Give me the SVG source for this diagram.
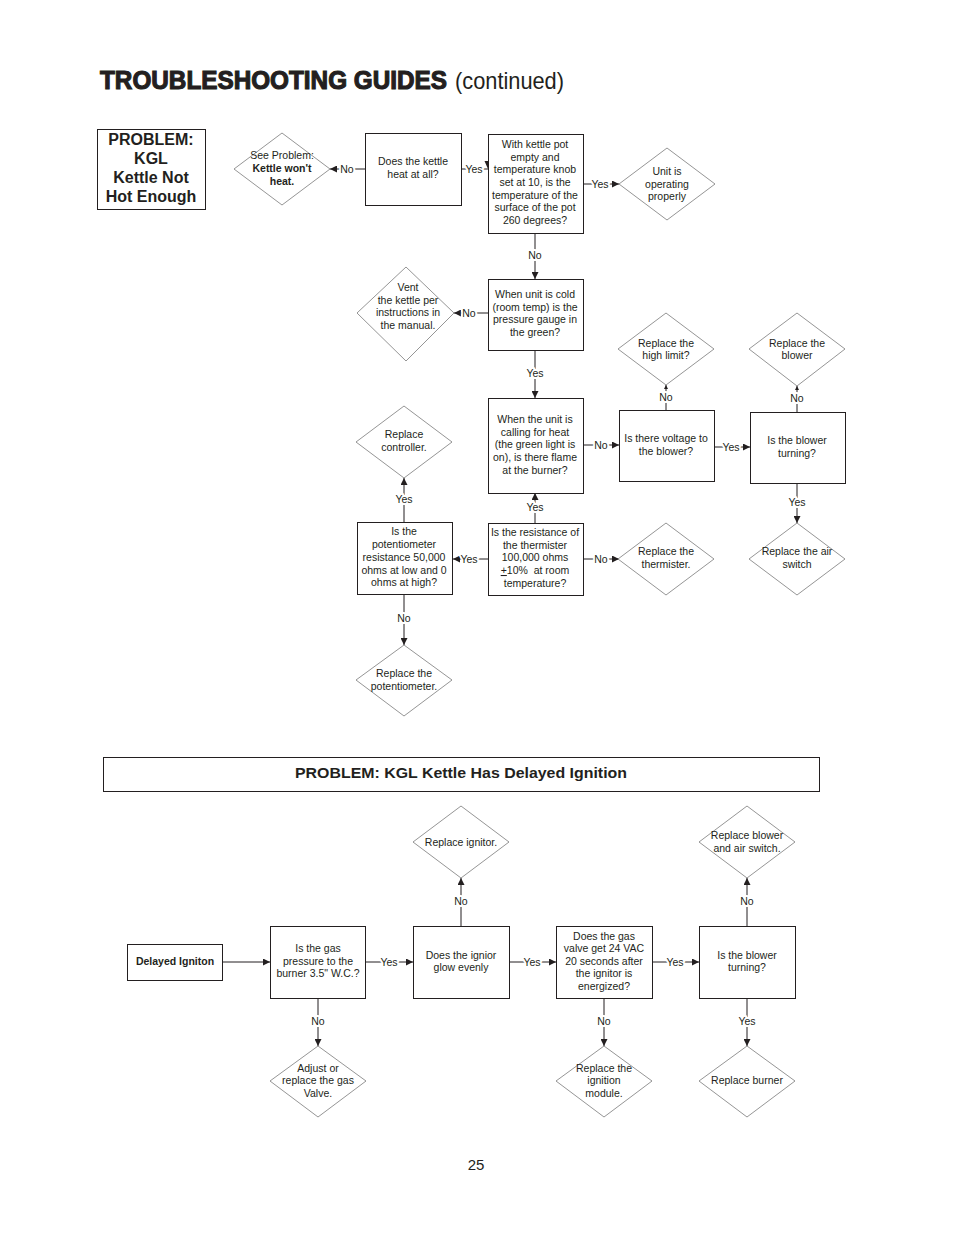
<svg xmlns="http://www.w3.org/2000/svg" width="954" height="1235" viewBox="0 0 954 1235">
<style>
text{font-family:"Liberation Sans",Arial,sans-serif;fill:#231f20}
.t{font-size:10.5px;text-anchor:middle}
.b{font-weight:bold}
.box{fill:#fff;stroke:#231f20;stroke-width:1}
.dia{fill:#fff;stroke:#7a7a7a;stroke-width:0.8}
.ln{fill:none;stroke:#231f20;stroke-width:1}
.lbl{font-size:10.5px;text-anchor:middle;paint-order:stroke;stroke:#fff;stroke-width:4px;stroke-linejoin:round}
</style>
<defs>
<marker id="ar" viewBox="0 0 10 10" refX="10" refY="5" markerWidth="7" markerHeight="7" markerUnits="userSpaceOnUse" orient="auto">
<path d="M0,0 L10,5 L0,10 z" fill="#231f20"/>
</marker>
<marker id="sm" viewBox="0 0 10 10" refX="10" refY="5" markerWidth="4" markerHeight="4" markerUnits="userSpaceOnUse" orient="auto">
<path d="M0,0 L10,5 L0,10 z" fill="#231f20"/>
</marker>
</defs>
<rect width="954" height="1235" fill="#fff"/>
<g id="title">
<text x="100" y="89" font-size="25" textLength="347" lengthAdjust="spacingAndGlyphs" style="font-weight:900;stroke:#231f20;stroke-width:1.1">TROUBLESHOOTING GUIDES</text>
<text x="455" y="89" font-size="24" textLength="109" lengthAdjust="spacingAndGlyphs">(continued)</text>
</g>
<g id="connectors">
<path class="ln" d="M365,169 H330" marker-end="url(#ar)"/>
<path class="ln" d="M461,169 H488"/>
<path d="M484.5,161 L491.5,161 L488,169 z" fill="#231f20"/>
<path class="ln" d="M583,184 H619" marker-end="url(#ar)"/>
<path class="ln" d="M535,233 V279" marker-end="url(#ar)"/>
<path class="ln" d="M488,313 H454" marker-end="url(#ar)"/>
<path class="ln" d="M535,350 V398" marker-end="url(#ar)"/>
<path class="ln" d="M583,445 H619" marker-end="url(#ar)"/>
<path class="ln" d="M666,410 V385" marker-end="url(#sm)"/>
<path class="ln" d="M714,447 H750" marker-end="url(#ar)"/>
<path class="ln" d="M797,412 V386" marker-end="url(#sm)"/>
<path class="ln" d="M797,483 V523" marker-end="url(#ar)"/>
<path class="ln" d="M535,523 V493" marker-end="url(#ar)"/>
<path class="ln" d="M583,559 H619" marker-end="url(#ar)"/>
<path class="ln" d="M488,559 H453" marker-end="url(#ar)"/>
<path class="ln" d="M404,522 V478" marker-end="url(#ar)"/>
<path class="ln" d="M404,595 V645" marker-end="url(#ar)"/>
<path class="ln" d="M222,962 H270" marker-end="url(#ar)"/>
<path class="ln" d="M365,962 H413" marker-end="url(#ar)"/>
<path class="ln" d="M461,926 V878" marker-end="url(#ar)"/>
<path class="ln" d="M509,962 H556" marker-end="url(#ar)"/>
<path class="ln" d="M604,998 V1046" marker-end="url(#ar)"/>
<path class="ln" d="M652,962 H699" marker-end="url(#ar)"/>
<path class="ln" d="M747,926 V878" marker-end="url(#ar)"/>
<path class="ln" d="M747,998 V1046" marker-end="url(#ar)"/>
<path class="ln" d="M318,998 V1046" marker-end="url(#ar)"/>
<text class="lbl" x="347" y="173">No</text>
<text class="lbl" x="474" y="173">Yes</text>
<text class="lbl" x="600" y="188">Yes</text>
<text class="lbl" x="535" y="259">No</text>
<text class="lbl" x="469" y="317">No</text>
<text class="lbl" x="535" y="377">Yes</text>
<text class="lbl" x="601" y="449">No</text>
<text class="lbl" x="666" y="401">No</text>
<text class="lbl" x="731" y="451">Yes</text>
<text class="lbl" x="797" y="402">No</text>
<text class="lbl" x="797" y="506">Yes</text>
<text class="lbl" x="535" y="511">Yes</text>
<text class="lbl" x="601" y="563">No</text>
<text class="lbl" x="469" y="563">Yes</text>
<text class="lbl" x="404" y="503">Yes</text>
<text class="lbl" x="404" y="622">No</text>
<text class="lbl" x="389" y="966">Yes</text>
<text class="lbl" x="461" y="905">No</text>
<text class="lbl" x="532" y="966">Yes</text>
<text class="lbl" x="604" y="1025">No</text>
<text class="lbl" x="675" y="966">Yes</text>
<text class="lbl" x="747" y="905">No</text>
<text class="lbl" x="747" y="1025">Yes</text>
<text class="lbl" x="318" y="1025">No</text>
</g>
<g id="problem1">
<rect class="box" x="97.5" y="129.5" width="108" height="80"/>
<text class="b" x="151" y="145" font-size="16" text-anchor="middle">PROBLEM:</text>
<text class="b" x="151" y="164" font-size="16" text-anchor="middle">KGL</text>
<text class="b" x="151" y="183" font-size="16" text-anchor="middle">Kettle Not</text>
<text class="b" x="151" y="202" font-size="16" text-anchor="middle">Hot Enough</text>
</g>
<g id="seeProblem">
<polygon class="dia" points="282,133 330,169 282,205 234,169"/>
<text class="t" x="282" y="159">See Problem:</text>
<text class="t b" x="282" y="172">Kettle won't</text>
<text class="t b" x="282" y="185">heat.</text>
</g>
<g id="heatAtAll">
<rect class="box" x="365.5" y="133.5" width="96" height="72"/>
<text class="t" x="413" y="165">Does the kettle</text>
<text class="t" x="413" y="178">heat at all?</text>
</g>
<g id="kettleEmpty">
<rect class="box" x="488.5" y="134.5" width="95" height="99"/>
<text class="t" x="535" y="148">With kettle pot</text>
<text class="t" x="535" y="161">empty and</text>
<text class="t" x="535" y="173">temperature knob</text>
<text class="t" x="535" y="186">set at 10, is the</text>
<text class="t" x="535" y="199">temperature of the</text>
<text class="t" x="535" y="211">surface of the pot</text>
<text class="t" x="535" y="224">260 degrees?</text>
</g>
<g id="operating">
<polygon class="dia" points="667,148 715,184 667,220 619,184"/>
<text class="t" x="667" y="175">Unit is</text>
<text class="t" x="667" y="188">operating</text>
<text class="t" x="667" y="200">properly</text>
</g>
<g id="unitCold">
<rect class="box" x="488.5" y="279.5" width="95" height="71"/>
<text class="t" x="535" y="298">When unit is cold</text>
<text class="t" x="535" y="311">(room temp) is the</text>
<text class="t" x="535" y="323">pressure gauge in</text>
<text class="t" x="535" y="336">the green?</text>
</g>
<g id="vent">
<polygon class="dia" points="406,267 454,313 406,361 357,313"/>
<text class="t" x="408" y="291">Vent</text>
<text class="t" x="408" y="304">the kettle per</text>
<text class="t" x="408" y="316">instructions in</text>
<text class="t" x="408" y="329">the manual.</text>
</g>
<g id="callingHeat">
<rect class="box" x="488.5" y="398.5" width="95" height="95"/>
<text class="t" x="535" y="423">When the unit is</text>
<text class="t" x="535" y="436">calling for heat</text>
<text class="t" x="535" y="448">(the green light is</text>
<text class="t" x="535" y="461">on), is there flame</text>
<text class="t" x="535" y="474">at the burner?</text>
</g>
<g id="voltage">
<rect class="box" x="619.5" y="410.5" width="95" height="71"/>
<text class="t" x="666" y="442">Is there voltage to</text>
<text class="t" x="666" y="455">the blower?</text>
</g>
<g id="highLimit">
<polygon class="dia" points="666,313 714,349 666,385 618,349"/>
<text class="t" x="666" y="347">Replace the</text>
<text class="t" x="666" y="359">high limit?</text>
</g>
<g id="blowerTurning1">
<rect class="box" x="750.5" y="412.5" width="95" height="71"/>
<text class="t" x="797" y="444">Is the blower</text>
<text class="t" x="797" y="457">turning?</text>
</g>
<g id="replaceBlower">
<polygon class="dia" points="797,313 845,349 797,386 749,349"/>
<text class="t" x="797" y="347">Replace the</text>
<text class="t" x="797" y="359">blower</text>
</g>
<g id="airSwitch">
<polygon class="dia" points="797,523 845,559 797,595 749,559"/>
<text class="t" x="797" y="555">Replace the air</text>
<text class="t" x="797" y="568">switch</text>
</g>
<g id="thermister">
<rect class="box" x="488.5" y="523.5" width="95" height="72"/>
<text class="t" x="535" y="536">Is the resistance of</text>
<text class="t" x="535" y="549">the thermister</text>
<text class="t" x="535" y="561">100,000 ohms</text>
<text class="t" x="535" y="574"><tspan text-decoration="underline">+</tspan>10%&#160; at room</text>
<text class="t" x="535" y="587">temperature?</text>
</g>
<g id="replaceThermister">
<polygon class="dia" points="666,523 714,559 666,595 618,559"/>
<text class="t" x="666" y="555">Replace the</text>
<text class="t" x="666" y="568">thermister.</text>
</g>
<g id="potentiometer">
<rect class="box" x="357.5" y="522.5" width="95" height="72"/>
<text class="t" x="404" y="535">Is the</text>
<text class="t" x="404" y="548">potentiometer</text>
<text class="t" x="404" y="561">resistance 50,000</text>
<text class="t" x="404" y="574">ohms at low and 0</text>
<text class="t" x="404" y="586">ohms at high?</text>
</g>
<g id="controller">
<polygon class="dia" points="404,406 452,442 404,478 356,442"/>
<text class="t" x="404" y="438">Replace</text>
<text class="t" x="404" y="451">controller.</text>
</g>
<g id="replacePot">
<polygon class="dia" points="404,645 452,680 404,716 356,680"/>
<text class="t" x="404" y="677">Replace the</text>
<text class="t" x="404" y="690">potentiometer.</text>
</g>
<g id="problem2">
<rect class="box" x="103.5" y="757.5" width="716" height="34"/>
<text class="b" x="461" y="778" font-size="15" text-anchor="middle" textLength="332" lengthAdjust="spacingAndGlyphs">PROBLEM: KGL Kettle Has Delayed Ignition</text>
</g>
<g id="delayed">
<rect class="box" x="127.5" y="944.5" width="95" height="36"/>
<text class="t b" x="175" y="965">Delayed Igniton</text>
</g>
<g id="gasPressure">
<rect class="box" x="270.5" y="926.5" width="95" height="72"/>
<text class="t" x="318" y="952">Is the gas</text>
<text class="t" x="318" y="965">pressure to the</text>
<text class="t" x="318" y="977">burner 3.5" W.C.?</text>
</g>
<g id="adjustValve">
<polygon class="dia" points="318,1046 366,1081 318,1117 270,1081"/>
<text class="t" x="318" y="1072">Adjust or</text>
<text class="t" x="318" y="1084">replace the gas</text>
<text class="t" x="318" y="1097">Valve.</text>
</g>
<g id="ignitorGlow">
<rect class="box" x="413.5" y="926.5" width="96" height="72"/>
<text class="t" x="461" y="959">Does the ignior</text>
<text class="t" x="461" y="971">glow evenly</text>
</g>
<g id="replaceIgnitor">
<polygon class="dia" points="461,806 509,842 461,878 413,842"/>
<text class="t" x="461" y="846">Replace ignitor.</text>
</g>
<g id="gasValve">
<rect class="box" x="556.5" y="926.5" width="96" height="72"/>
<text class="t" x="604" y="940">Does the gas</text>
<text class="t" x="604" y="952">valve get 24 VAC</text>
<text class="t" x="604" y="965">20 seconds after</text>
<text class="t" x="604" y="977">the ignitor is</text>
<text class="t" x="604" y="990">energized?</text>
</g>
<g id="ignitionModule">
<polygon class="dia" points="604,1046 652,1081 604,1117 556,1081"/>
<text class="t" x="604" y="1072">Replace the</text>
<text class="t" x="604" y="1084">ignition</text>
<text class="t" x="604" y="1097">module.</text>
</g>
<g id="blowerTurning2">
<rect class="box" x="699.5" y="926.5" width="96" height="72"/>
<text class="t" x="747" y="959">Is the blower</text>
<text class="t" x="747" y="971">turning?</text>
</g>
<g id="blowerAirSwitch">
<polygon class="dia" points="747,806 795,842 747,878 699,842"/>
<text class="t" x="747" y="839">Replace blower</text>
<text class="t" x="747" y="852">and air switch.</text>
</g>
<g id="replaceBurner">
<polygon class="dia" points="747,1046 795,1081 747,1117 699,1081"/>
<text class="t" x="747" y="1084">Replace burner</text>
</g>
<text x="476" y="1170" font-size="15" text-anchor="middle">25</text>
</svg>
